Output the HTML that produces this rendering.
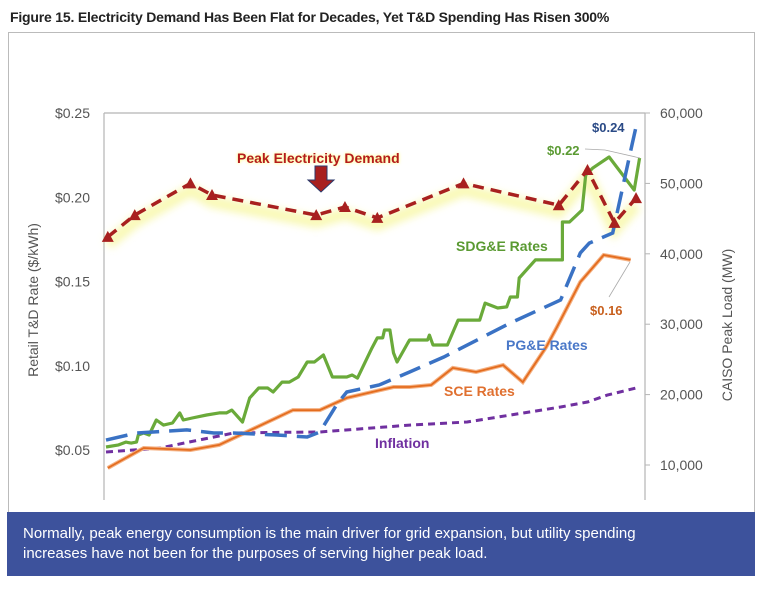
<!DOCTYPE html>
<html><head><meta charset="utf-8">
<style>
body{margin:0;width:764px;height:596px;background:#fff;overflow:hidden;font-family:"Liberation Sans",sans-serif;}
#title{position:absolute;left:10px;top:9px;font-size:14px;font-weight:bold;color:#222;letter-spacing:-0.2px;}
#frame{position:absolute;left:8px;top:32px;width:745px;height:480px;border:1px solid #bbb;border-bottom:none;}
#caption{position:absolute;left:7px;top:512px;width:748px;height:64px;background:#3d529c;color:#fff;font-size:15px;line-height:20px;box-sizing:border-box;padding:12px 0 0 16px;}
svg{position:absolute;left:0;top:0;}
</style></head><body>
<div id="title">Figure 15. Electricity Demand Has Been Flat for Decades, Yet T&amp;D Spending Has Risen 300%</div>
<div id="frame"></div>
<svg id="chart" width="764" height="596">
<defs>
<filter id="blur" x="-10%" y="-50%" width="120%" height="200%"><feGaussianBlur stdDeviation="4"/></filter>
</defs>
</svg>
<div id="caption">Normally, peak energy consumption is the main driver for grid expansion, but utility spending<br>increases have not been for the purposes of serving higher peak load.</div>
<script>
const leftTicks=[0.05,0.10,0.15,0.20,0.25];
const leftTickLabels=["$0.05","$0.10","$0.15","$0.20","$0.25"];
const rightTicks=[10000,20000,30000,40000,50000,60000];
const rightTickLabels=["10,000","20,000","30,000","40,000","50,000","60,000"];
const demandYears=[1990.1,1991.6,1994.7,1995.9,2001.7,2003.3,2005.1,2009.9,2015.2,2016.8,2018.3,2019.5];
const demandMW=[42400,45500,50000,48350,45500,46650,45100,50000,46900,51900,44400,47900];
const sdgeYears=[1990.0,1990.7,1991.1,1991.4,1991.7,1991.8,1992.1,1992.4,1992.8,1993.2,1993.7,1994.1,1994.3,1994.8,1995.6,1996.3,1996.7,1997.0,1997.6,1998.0,1998.5,1999.0,1999.3,1999.8,2000.2,2000.7,2001.2,2001.6,2002.1,2002.6,2003.4,2003.7,2004.0,2004.8,2005.1,2005.4,2005.5,2005.8,2006.0,2006.2,2006.8,2006.9,2007.9,2008.0,2008.2,2009.0,2009.6,2010.8,2011.1,2011.8,2012.3,2012.5,2012.9,2013.0,2013.9,2015.4,2015.4,2015.8,2016.5,2016.7,2017.1,2018.0,2019.4,2019.7];
const sdgeRates=[0.0518,0.053,0.0547,0.0541,0.0547,0.0589,0.0601,0.0589,0.0678,0.0648,0.066,0.072,0.0678,0.069,0.0708,0.072,0.072,0.0737,0.0666,0.0809,0.0868,0.0868,0.0844,0.0903,0.0903,0.0933,0.1022,0.1022,0.1064,0.0933,0.0933,0.0945,0.0927,0.1105,0.1165,0.1165,0.1212,0.1212,0.1076,0.1022,0.1135,0.1153,0.1153,0.1182,0.1123,0.1123,0.1271,0.1271,0.1372,0.1343,0.1349,0.1408,0.1408,0.1521,0.1628,0.1628,0.1853,0.1853,0.1924,0.2132,0.2174,0.2239,0.2043,0.2233];
const pgeYears=[1990.0,1991.7,1994.5,1996.0,1997.1,1999.5,2001.2,2001.9,2002.9,2003.4,2005.2,2006.9,2008.8,2012.5,2015.3,2016.4,2016.9,2018.2,2019.3,2019.5];
const pgeRates=[0.0559,0.0601,0.0619,0.0601,0.0601,0.0589,0.0577,0.0607,0.0779,0.0844,0.0886,0.0963,0.1052,0.1254,0.139,0.1669,0.1728,0.1788,0.2322,0.2417];
const sceYears=[1990.1,1992.1,1994.7,1996.3,2000.4,2001.9,2003.4,2006.0,2006.9,2008.1,2009.3,2010.6,2012.1,2013.2,2014.5,2015.1,2016.4,2017.7,2019.2];
const sceRates=[0.0393,0.0512,0.05,0.053,0.0737,0.0737,0.0809,0.0874,0.0874,0.0886,0.0987,0.0963,0.1004,0.0903,0.1111,0.123,0.1497,0.1657,0.1628];
const inflYears=[1990.0,1993.0,1997.1,2000.0,2001.9,2006.9,2010.1,2015.3,2016.8,2017.9,2019.5];
const inflRates=[0.0488,0.0512,0.0601,0.0605,0.0607,0.0648,0.0666,0.0755,0.0785,0.0826,0.0868];

const NS="http://www.w3.org/2000/svg";
const svg=document.getElementById('chart');
const X0=106,X1=645,PT=113,PB=500,AXL=104,AXR=645;
const xs=y=>X0+(y-1990)*(X1-X0)/30;
const yl=v=>113+(0.25-v)*337/0.2;
const yr=v=>113+(60000-v)*352/50000;
function mk(tag,attrs,parent){const e=document.createElementNS(NS,tag);for(const k in attrs)e.setAttribute(k,attrs[k]);(parent||svg).appendChild(e);return e;}
function txt(s,attrs){const e=mk('text',attrs);e.textContent=s;return e;}
function pts(xa,ya,f){return xa.map((x,i)=>xs(x).toFixed(1)+','+f(ya[i]).toFixed(1)).join(' ');}

let a=mk('line',{x1:AXL,y1:PT,x2:AXL,y2:PB,stroke:'#b5b5b5','stroke-width':1.2});

a=mk('line',{x1:AXL,y1:PT,x2:AXR,y2:PT,stroke:'#b5b5b5','stroke-width':1.2});

a=mk('line',{x1:AXR,y1:PT,x2:AXR,y2:PB,stroke:'#b5b5b5','stroke-width':1.2});

leftTicks.forEach((v,i)=>{const t=txt(leftTickLabels[i],{x:90,y:yl(v)+5,'text-anchor':'end','font-size':14,fill:'#555'});
});
rightTicks.forEach((v,i)=>{const l=mk('line',{x1:AXR,x2:AXR+5,y1:yr(v),y2:yr(v),stroke:'#b5b5b5'});

const t=txt(rightTickLabels[i],{x:660,y:yr(v)+5,'font-size':14,fill:'#555'});
});
let t=txt('Retail T&D Rate ($/kWh)',{x:0,y:0,transform:'translate(38,300) rotate(-90)','text-anchor':'middle','font-size':14,fill:'#555'});

t=txt('CAISO Peak Load (MW)',{x:0,y:0,transform:'translate(732,325) rotate(-90)','text-anchor':'middle','font-size':14,fill:'#555'});


let g=mk('polyline',{points:pts(demandYears,demandMW,yr),fill:'none',stroke:'#f4f47a','stroke-width':12,'stroke-opacity':0.55,filter:'url(#blur)',transform:'translate(0,7)'});

let s=mk('polyline',{points:pts(inflYears,inflRates,yl),fill:'none',stroke:'#7030a0','stroke-width':3,'stroke-dasharray':'7,5'});

s=mk('polyline',{points:pts(sceYears,sceRates,yl),fill:'none',stroke:'#f4b183','stroke-width':4});

s=mk('polyline',{points:pts(sceYears,sceRates,yl),fill:'none',stroke:'#e46c1e','stroke-width':1.8});

s=mk('polyline',{points:pts(sdgeYears,sdgeRates,yl),fill:'none',stroke:'#6aaa3a','stroke-width':3.2,'stroke-linejoin':'round'});

s=mk('polyline',{points:pts(pgeYears,pgeRates,yl),fill:'none',stroke:'#3a72c4','stroke-width':3.5,'stroke-dasharray':'22,10'});

s=mk('polyline',{points:pts(demandYears,demandMW,yr),fill:'none',stroke:'#a8201f','stroke-width':3.5,'stroke-dasharray':'11,7'});

demandYears.forEach((y,i)=>{const cx=xs(y),cy=yr(demandMW[i]);
const p=mk('path',{d:`M${cx-6},${cy+5} L${cx},${cy-6} L${cx+6},${cy+5} Z`,fill:'#a8201f'});
});

t=txt('Peak Electricity Demand',{x:237,y:163,'font-size':14,'font-weight':'bold',fill:'#b51c1c',style:'text-shadow:0 0 3px #ffff66'});

let ar=mk('path',{d:'M315,166 L327,166 L327,180 L334,180 L321,192 L308,180 L315,180 Z',fill:'#a8201f',stroke:'#2b3a6b','stroke-width':1});

t=txt('SDG&E Rates',{x:456,y:251,'font-size':14,'font-weight':'bold',fill:'#5a9a32'});

t=txt('PG&E Rates',{x:506,y:350,'font-size':14,'font-weight':'bold',fill:'#4a78c8'});

t=txt('SCE Rates',{x:444,y:396,'font-size':14,'font-weight':'bold',fill:'#e07030'});

t=txt('Inflation',{x:375,y:448,'font-size':14,'font-weight':'bold',fill:'#7030a0'});

t=txt('$0.24',{x:592,y:132,'font-size':13,'font-weight':'bold',fill:'#2a4a86'});

t=txt('$0.22',{x:547,y:155,'font-size':13,'font-weight':'bold',fill:'#5a9a32'});

let l=mk('polyline',{points:'585,149 605,150 640,158',fill:'none',stroke:'#aaa','stroke-width':0.8});

t=txt('$0.16',{x:590,y:315,'font-size':13,'font-weight':'bold',fill:'#c8601e'});

l=mk('line',{x1:609,y1:297,x2:630,y2:262,stroke:'#aaa','stroke-width':0.8});

</script>
</body></html>
